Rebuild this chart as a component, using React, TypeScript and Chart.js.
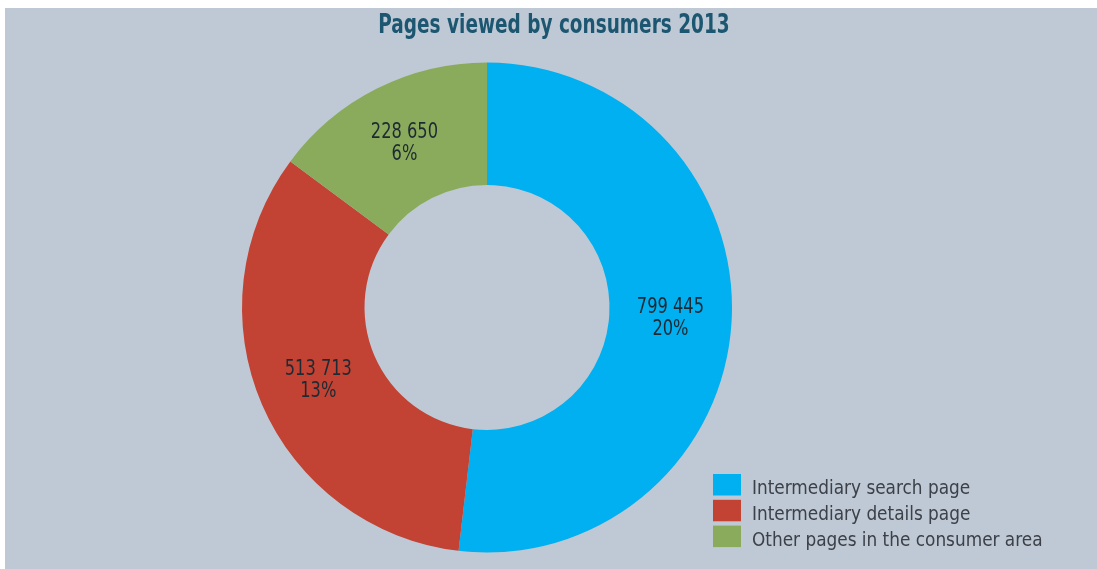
import React, { useEffect, useRef } from "react";
import { Chart, registerables } from "chart.js";

Chart.register(...registerables);

const chartTitle = "Pages viewed by consumers 2013";
const categories = [
  "Intermediary search page",
  "Intermediary details page",
  "Other pages in the consumer area",
];
const pageViews = [799445, 513713, 228650];
const shareLabels = ["20%", "13%", "6%"];
const sliceColors = ["#00B0F0", "#C24233", "#8AAB5C"];

const FONT = '"DejaVu Sans Condensed", "Liberation Sans", sans-serif';

function fmt(n: number): string {
  return String(n).replace(/\B(?=(\d{3})+(?!\d))/g, " ");
}

function narrowText(
  ctx: CanvasRenderingContext2D,
  text: string,
  x: number,
  y: number,
  sx: number
) {
  ctx.save();
  ctx.translate(x, y);
  ctx.scale(sx, 1);
  ctx.fillText(text, 0, 0);
  ctx.restore();
}

const decorPlugin = {
  id: "decor",
  afterDraw(chart: any) {
    const ctx = chart.ctx as CanvasRenderingContext2D;
    const w = chart.width;
    ctx.save();
    // title
    ctx.font = `bold 26px ${FONT}`;
    ctx.fillStyle = "#1D5670";
    ctx.textAlign = "center";
    ctx.textBaseline = "alphabetic";
    narrowText(ctx, chartTitle, w / 2 + 3, 25, 0.79);

    // data labels
    const meta = chart.getDatasetMeta(0);
    ctx.font = `21px ${FONT}`;
    ctx.fillStyle = "#1E2A33";
    ctx.textBaseline = "middle";
    meta.data.forEach((arc: any, i: number) => {
      const p = arc.tooltipPosition();
      narrowText(ctx, fmt(pageViews[i]), p.x, p.y - 11, 0.86);
      narrowText(ctx, shareLabels[i], p.x, p.y + 11, 0.86);
    });

    // legend
    ctx.textAlign = "left";
    ctx.textBaseline = "alphabetic";
    ctx.font = `20px ${FONT}`;
    const lx = 708;
    const ly = 466;
    const step = 25.8;
    categories.forEach((c, i) => {
      const y = ly + i * step;
      ctx.fillStyle = sliceColors[i];
      ctx.fillRect(lx, y, 28, 21.5);
      ctx.fillStyle = "#3C4048";
      narrowText(ctx, c, lx + 39, y + 20, 0.94);
    });
    ctx.restore();
  },
};

export default function App() {
  const ref = useRef<HTMLCanvasElement | null>(null);
  useEffect(() => {
    if (!ref.current) return;
    const chart = new Chart(ref.current, {
      type: "doughnut",
      data: {
        labels: categories,
        datasets: [
          {
            data: pageViews,
            backgroundColor: sliceColors,
            borderWidth: 0,
          },
        ],
      },
      options: {
        animation: false,
        responsive: true,
        maintainAspectRatio: false,
        cutout: "50%",
        layout: { padding: { left: 237, right: 365, top: 54.5, bottom: 16.5 } },
        plugins: {
          legend: { display: false },
          title: { display: false },
          tooltip: { enabled: false },
        },
      },
      plugins: [decorPlugin],
    });
    return () => chart.destroy();
  }, []);
  return (
    <div
      style={{
        position: "fixed",
        left: 5,
        top: 8,
        width: 1092,
        height: 561,
        background: "#BEC9D5",
      }}
    >
      <canvas ref={ref} />
    </div>
  );
}
